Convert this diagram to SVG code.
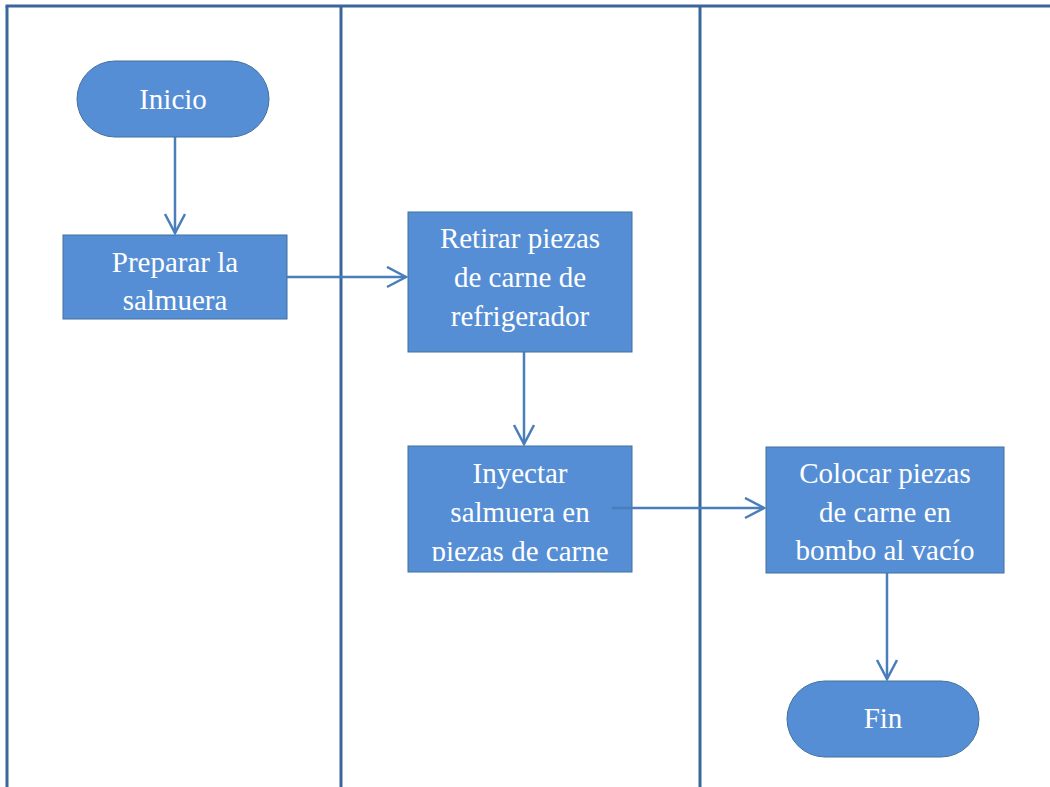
<svg xmlns="http://www.w3.org/2000/svg" width="1050" height="787" viewBox="0 0 1050 787">
  <style>
    .lane { stroke: #3a6699; stroke-width: 3; fill: none; }
    .box { fill: #558ed5; stroke: #41719c; stroke-width: 1; }
    .lbl { font-family: "Liberation Serif", "Times New Roman", serif; font-size: 29px; fill: #ffffff; text-anchor: middle; }
    .conn { stroke: #4a7ebb; stroke-width: 2.5; fill: none; }
  </style>
  <defs>
    <marker id="arrow" markerUnits="userSpaceOnUse" markerWidth="24" markerHeight="24" refX="20" refY="11" orient="auto">
      <polyline points="1,1 20,11 1,21" fill="none" stroke="#4a7ebb" stroke-width="2.5"/>
    </marker>
    <clipPath id="clipPreparar"><rect x="63" y="235" width="224" height="75"/></clipPath>
    <clipPath id="clipInyectar"><rect x="408" y="446" width="224" height="115"/></clipPath>
  </defs>
  <rect width="1050" height="787" fill="#ffffff"/>

  <!-- swimlane frame -->
  <g id="lanes">
    <line class="lane" x1="5.5" y1="6" x2="1050" y2="6"/>
    <line class="lane" x1="7" y1="6" x2="7" y2="787"/>
    <line class="lane" x1="341" y1="6" x2="341" y2="787"/>
    <line class="lane" x1="700" y1="6" x2="700" y2="787"/>
  </g>

  <g id="inicio">
    <rect class="box" x="77" y="61" width="192" height="76" rx="38" ry="38"/>
    <text class="lbl" x="173" y="109">Inicio</text>
  </g>

  <g id="preparar">
    <rect class="box" x="63" y="235" width="224" height="84"/>
    <g clip-path="url(#clipPreparar)">
      <text class="lbl" x="175" y="272">Preparar la</text>
      <text class="lbl" x="175" y="310">salmuera</text>
    </g>
  </g>

  <g id="retirar">
    <rect class="box" x="408" y="212" width="224" height="140"/>
    <text class="lbl" x="520" y="248">Retirar piezas</text>
    <text class="lbl" x="520" y="287">de carne de</text>
    <text class="lbl" x="520" y="326">refrigerador</text>
  </g>

  <g id="inyectar">
    <rect class="box" x="408" y="446" width="224" height="126"/>
    <g clip-path="url(#clipInyectar)">
      <text class="lbl" x="520" y="483">Inyectar</text>
      <text class="lbl" x="520" y="522">salmuera en</text>
      <text class="lbl" x="520" y="561">piezas de carne</text>
    </g>
  </g>

  <g id="colocar">
    <rect class="box" x="766" y="447" width="238" height="126"/>
    <text class="lbl" x="885" y="483">Colocar piezas</text>
    <text class="lbl" x="885" y="522">de carne en</text>
    <text class="lbl" x="885" y="560">bombo al vacío</text>
  </g>

  <g id="fin">
    <rect class="box" x="787" y="681" width="192" height="76" rx="38" ry="38"/>
    <text class="lbl" x="883" y="728">Fin</text>
  </g>

  <g id="connectors">
    <line class="conn" x1="175" y1="137" x2="175" y2="233" marker-end="url(#arrow)"/>
    <line class="conn" x1="287" y1="277" x2="406" y2="277" marker-end="url(#arrow)"/>
    <line class="conn" x1="524" y1="352" x2="524" y2="444" marker-end="url(#arrow)"/>
    <line class="conn" x1="612" y1="508" x2="764" y2="508" marker-end="url(#arrow)"/>
    <line class="conn" x1="887" y1="573" x2="887" y2="679" marker-end="url(#arrow)"/>
  </g>
</svg>
